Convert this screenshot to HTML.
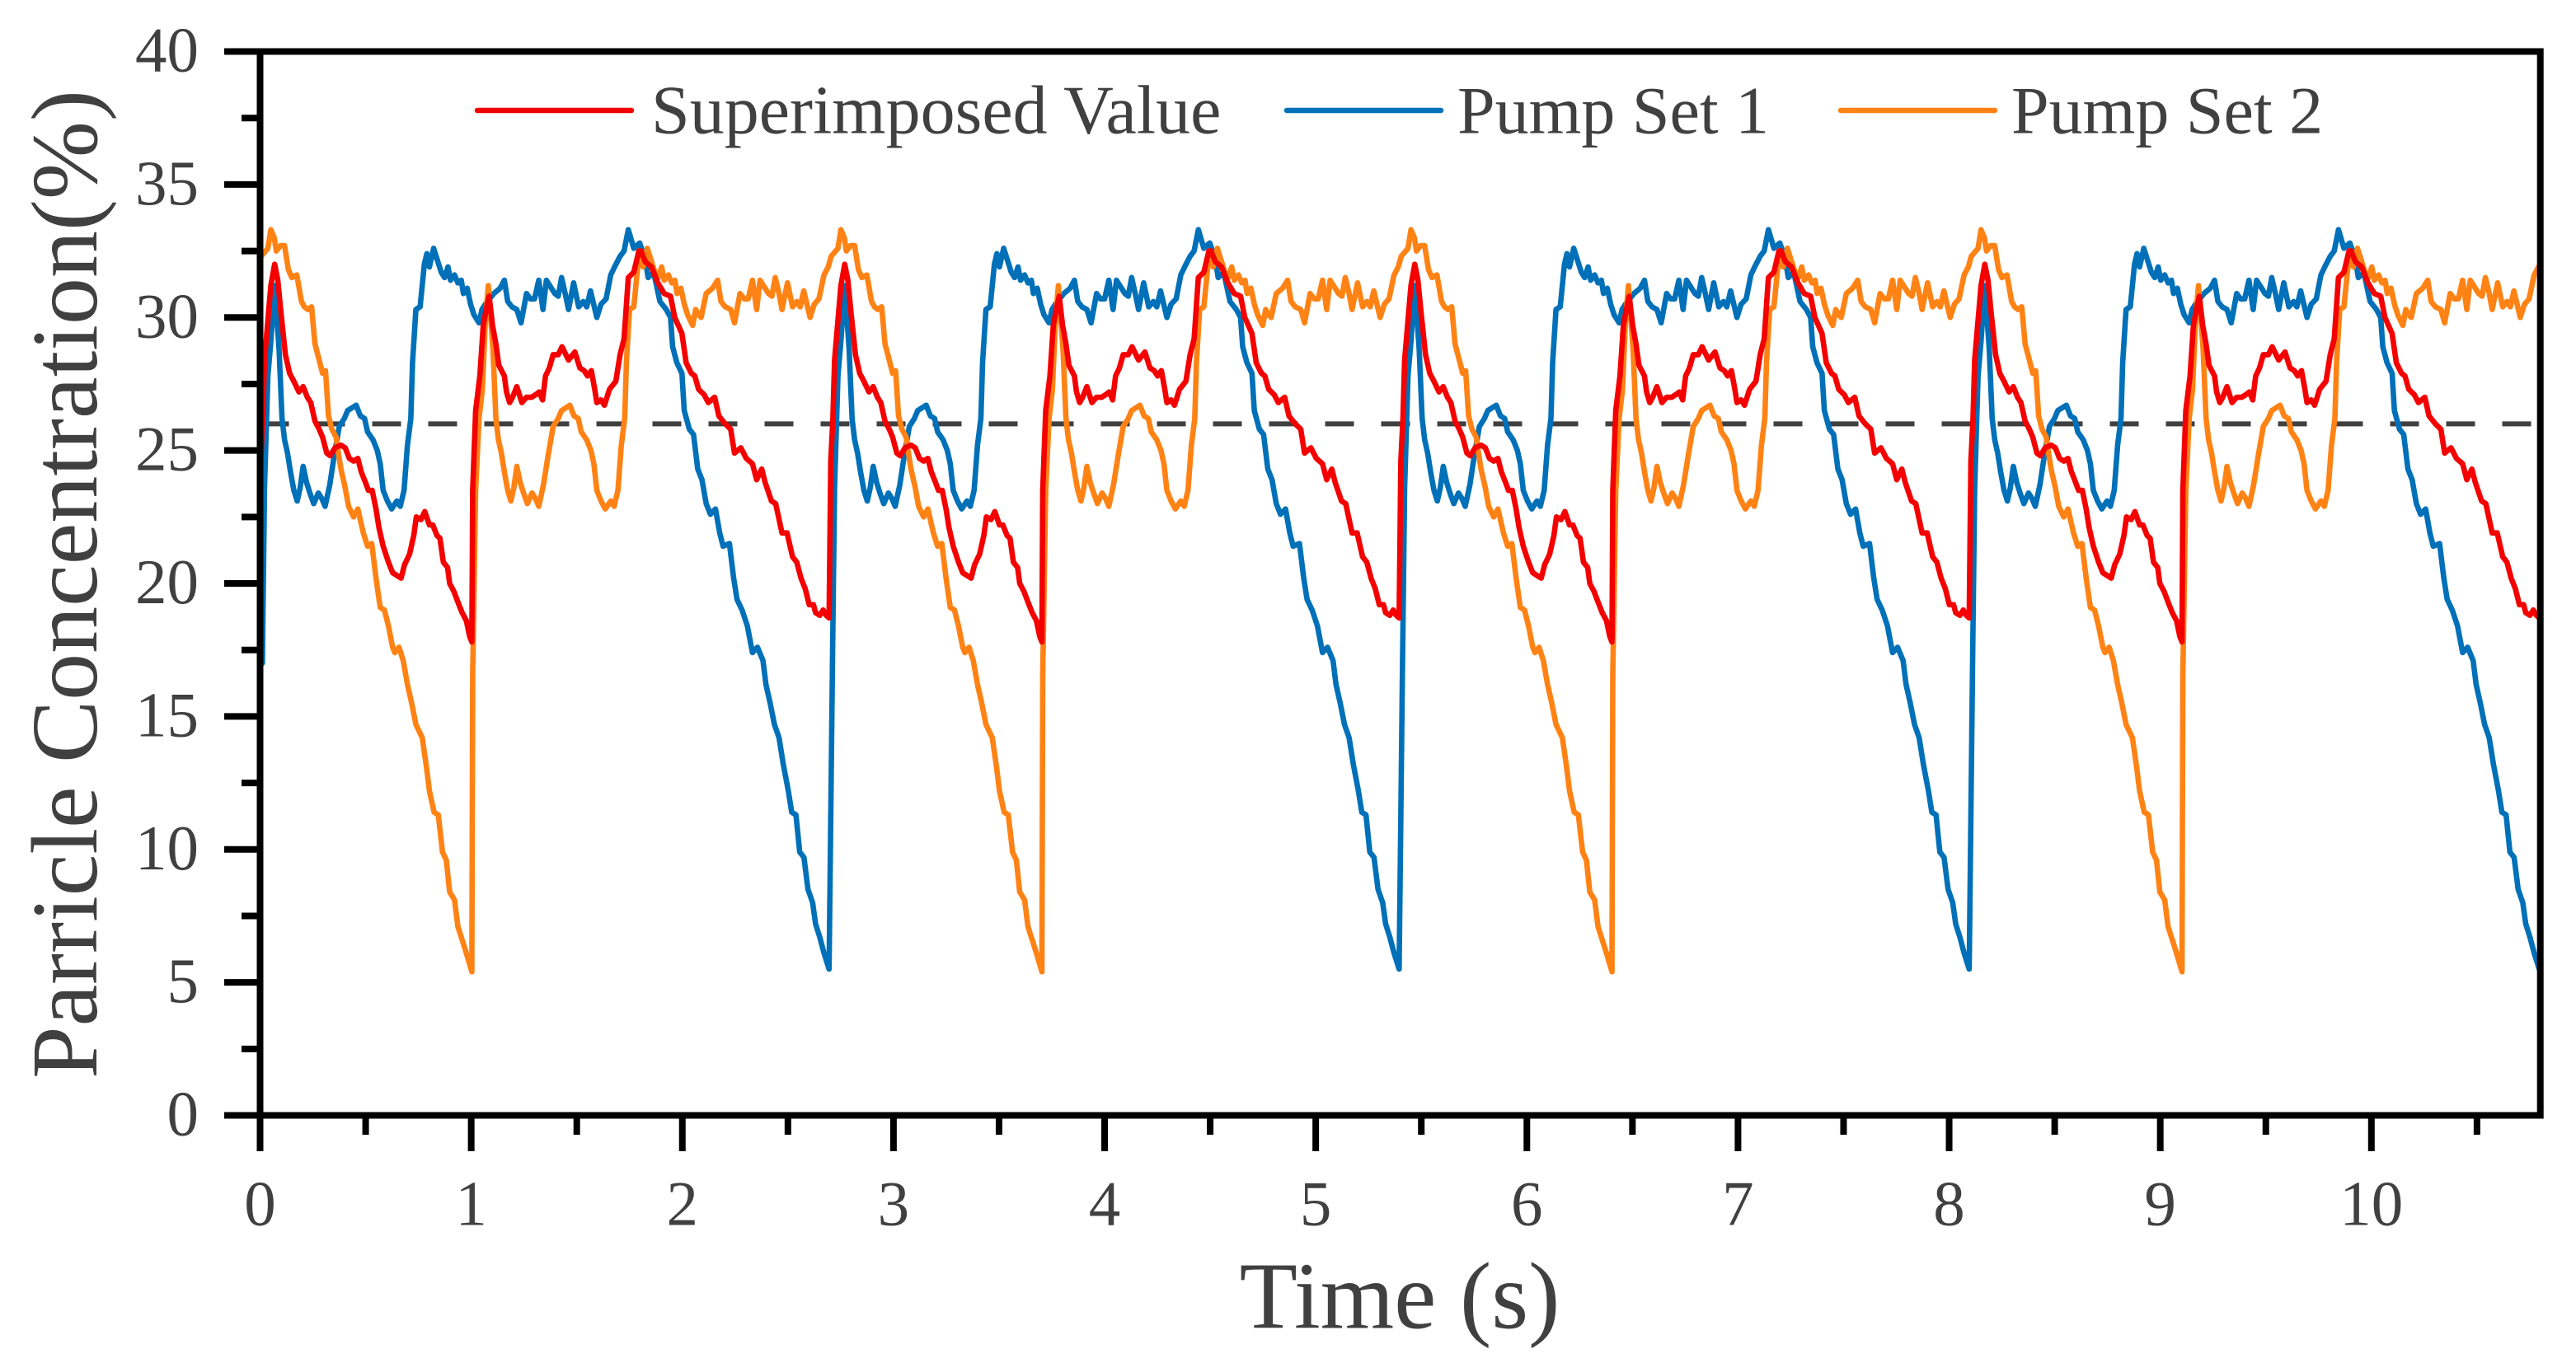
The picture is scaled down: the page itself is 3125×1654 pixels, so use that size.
<!DOCTYPE html>
<html lang="en">
<head>
<meta charset="utf-8">
<title>Particle concentration over time</title>
<style>
html,body{margin:0;padding:0;background:#fff;}
svg{display:block;}
text{font-family:"Liberation Serif",serif;fill:#404040;}
</style>
</head>
<body>
<svg id="chart" xmlns="http://www.w3.org/2000/svg" width="3125" height="1654" viewBox="0 0 3125 1654">
<rect x="0" y="0" width="3125" height="1654" fill="#fff"/>
<defs><clipPath id="plot-clip"><rect x="315.5" y="62.5" width="2766.2" height="1291"/></clipPath></defs>
<g id="marks" clip-path="url(#plot-clip)"></g>
<g id="axes"></g>
<text transform="translate(117,709) rotate(-90)" text-anchor="middle" font-size="114">Parricle Concentration(%)</text>
<text x="1698" y="1611.5" text-anchor="middle" font-size="115">Time (s)</text>
<g>
<line x1="579" y1="134" x2="766" y2="134" stroke="#f00000" stroke-width="6.5" stroke-linecap="round"/>
<text x="790" y="161.5" font-size="84">Superimposed Value</text>
<line x1="1561" y1="134" x2="1748" y2="134" stroke="#0070b8" stroke-width="6.5" stroke-linecap="round"/>
<text x="1768" y="161.5" font-size="82">Pump Set 1</text>
<line x1="2233" y1="134" x2="2420" y2="134" stroke="#ff8214" stroke-width="6.5" stroke-linecap="round"/>
<text x="2440" y="161.5" font-size="82">Pump Set 2</text>
</g>
</svg>
<script>
const xTickLabels = [0,1,2,3,4,5,6,7,8,9,10];
const xMinorTicks = [0.5,1.5,2.5,3.5,4.5,5.5,6.5,7.5,8.5,9.5,10.5];
const yTickLabels = [0,5,10,15,20,25,30,35,40];
const yMinorTicks = [2.5,7.5,12.5,17.5,22.5,27.5,32.5,37.5];
const xDomain = [0, 10.8];
const yDomain = [0, 40];
const thresholdValue = [26];
const cycleLength = [2.7];
const cycleStarts = [0,1,2,3];

const pump1Time = [0.011,0.021,0.037,0.051,0.069,0.090,0.104,0.116,0.130,0.144,0.160,0.176,0.190,0.204,0.220,0.236,0.254,0.276,0.292,0.308,0.330,0.349,0.375,0.399,0.415,0.455,0.475,0.495,0.509,0.535,0.555,0.569,0.583,0.603,0.623,0.648,0.664,0.682,0.698,0.714,0.722,0.738,0.758,0.778,0.790,0.802,0.822,0.838,0.858,0.874,0.890,0.902,0.921,0.937,0.953,0.963,0.981,0.997,1.013,1.037,1.051,1.067,1.107,1.137,1.157,1.173,1.193,1.216,1.236,1.262,1.280,1.300,1.320,1.340,1.356,1.372,1.396,1.412,1.428,1.445,1.461,1.485,1.509,1.531,1.547,1.565,1.595,1.615,1.639,1.661,1.679,1.705,1.724,1.744,1.770,1.798,1.824,1.838,1.864,1.894,1.924,1.944,1.954,1.974,1.998,2.009,2.033,2.053,2.073,2.093,2.113,2.133,2.157,2.177,2.193,2.223,2.243,2.259,2.283,2.308,2.332,2.356,2.382,2.396,2.416,2.436,2.458,2.478,2.502,2.518,2.538,2.556,2.576,2.595,2.617,2.631,2.651,2.671,2.695];
const pump1Values = [17,23.6,27.8,29.1,31.2,28.8,26.2,25.4,24.9,24.2,23.5,23.1,23.6,24.4,23.8,23.4,23.0,23.4,23.2,22.9,23.7,24.7,25.9,26.2,26.5,26.7,26.3,26.2,25.7,25.4,25.0,24.5,23.5,23.1,22.8,23.1,22.9,23.5,25.2,26.2,28.3,30.3,30.4,32,32.4,31.9,32.6,32.2,31.7,31.5,31.9,31.4,31.6,31.3,31.4,30.9,31.1,30.5,30.1,29.8,30.3,30.5,30.9,31.1,31.4,30.6,30.4,30.3,29.8,30.9,30.7,30.7,31.4,30.3,31.4,31.2,30.9,30.8,31.5,30.9,30.3,31.3,30.4,30.6,30.4,31,30,30.5,30.7,31.6,31.9,32.3,32.5,33.3,32.6,32.8,32.2,31.5,31.7,30.6,30.3,30,28.9,28.3,27.9,26.5,25.8,25.6,24.3,23.9,23,22.6,22.8,21.9,21.4,21.5,20.2,19.4,19,18.4,17.4,17.6,17.1,16.2,15.5,14.7,14.2,13.2,12.2,11.4,11.3,9.9,9.7,8.5,8,7.2,6.7,6.1,5.5];

const pump2Time = [0.005,0.037,0.051,0.067,0.077,0.096,0.116,0.134,0.150,0.174,0.196,0.210,0.226,0.244,0.260,0.280,0.296,0.310,0.324,0.340,0.360,0.371,0.383,0.403,0.419,0.443,0.463,0.489,0.509,0.529,0.549,0.569,0.589,0.608,0.628,0.638,0.658,0.678,0.698,0.718,0.738,0.768,0.788,0.802,0.824,0.844,0.864,0.882,0.898,0.921,0.937,0.957,0.977,1.003,1.007,1.021,1.037,1.053,1.067,1.081,1.103,1.117,1.129,1.143,1.157,1.173,1.188,1.202,1.216,1.232,1.248,1.266,1.288,1.304,1.320,1.342,1.362,1.388,1.412,1.428,1.467,1.487,1.507,1.521,1.547,1.567,1.581,1.595,1.615,1.635,1.661,1.677,1.695,1.711,1.727,1.735,1.750,1.770,1.790,1.802,1.814,1.834,1.850,1.870,1.886,1.902,1.914,1.934,1.950,1.965,1.975,1.993,2.009,2.025,2.049,2.063,2.077,2.089,2.113,2.143,2.167,2.183,2.203,2.229,2.247,2.273,2.293,2.312,2.332,2.352,2.368,2.384,2.408,2.424,2.440,2.458,2.472,2.498,2.522,2.542,2.558,2.575,2.605,2.625,2.647,2.671,2.691];
const pump2Values = [32.3,32.6,33.3,33,32.5,32.7,32.7,31.8,31.5,31.6,30.6,30.4,30.3,30.4,29,28.4,27.9,28,26.3,25.8,25.5,24.9,24.3,23.6,22.9,22.5,22.8,21.9,21.4,21.5,20.2,19.1,19,18.4,17.6,17.4,17.6,17.1,16.2,15.5,14.7,14.2,13.1,12.2,11.4,11.3,9.9,9.6,8.4,8.1,7.1,6.6,6.1,5.4,16.6,23.5,26.2,27.3,29.9,31.2,28.8,26.2,25.4,24.9,24.2,23.5,23.1,23.6,24.4,23.8,23.4,23,23.4,23.2,22.9,23.7,24.7,25.9,26.2,26.5,26.7,26.3,26.2,25.7,25.4,25,24.5,23.5,23.1,22.8,23.1,22.9,23.5,25.2,26.2,28.3,30.3,30.4,32,32.4,31.9,32.6,32.2,31.7,31.5,31.9,31.4,31.6,31.3,31.4,30.9,31.1,30.5,30.1,29.7,30.3,30.1,30,30.9,31.1,31.4,30.6,30.4,30.3,29.8,30.9,30.7,30.7,31.4,30.3,31.4,31.2,30.9,30.8,31.5,30.9,30.3,31.3,30.4,30.6,30.4,31,30,30.5,30.7,31.6,31.9];

const superimposedTime = [0.003,0.013,0.021,0.051,0.069,0.084,0.100,0.120,0.140,0.160,0.184,0.204,0.224,0.240,0.260,0.280,0.296,0.316,0.332,0.355,0.383,0.403,0.423,0.443,0.463,0.479,0.499,0.513,0.531,0.549,0.563,0.583,0.608,0.628,0.648,0.668,0.684,0.708,0.728,0.740,0.762,0.780,0.802,0.818,0.838,0.852,0.868,0.888,0.898,0.918,0.937,0.957,0.977,0.993,1.003,1.007,1.021,1.041,1.057,1.071,1.085,1.101,1.117,1.131,1.157,1.167,1.182,1.196,1.216,1.240,1.262,1.286,1.306,1.322,1.338,1.352,1.370,1.388,1.412,1.430,1.461,1.491,1.515,1.535,1.551,1.569,1.585,1.595,1.615,1.631,1.655,1.685,1.705,1.724,1.744,1.770,1.794,1.804,1.824,1.854,1.884,1.914,1.944,1.964,1.998,2.018,2.043,2.059,2.077,2.103,2.123,2.153,2.173,2.203,2.229,2.247,2.277,2.303,2.332,2.352,2.376,2.392,2.422,2.442,2.472,2.496,2.522,2.542,2.562,2.582,2.601,2.621,2.631,2.651,2.667,2.681,2.695];
const superimposedValues = [24.6,26.2,28.4,31.2,32,31.4,30.1,28.6,27.9,27.6,27.2,27.4,27,26.8,26.1,25.8,25.5,24.9,24.8,25.1,25.2,25.1,24.7,24.6,24.7,24.2,23.8,23.5,23.5,22.8,22.1,21.4,20.8,20.4,20.3,20.2,20.7,21.1,21.8,22.5,22.4,22.7,22.2,22.2,21.8,21.7,20.8,20.6,20,19.7,19.3,18.9,18.6,18,17.8,23.5,26.5,27.8,29.7,30.3,30.8,29.7,29,28.2,27.8,27.2,26.8,27,27.4,26.8,27,27,27.1,27.2,26.9,27.8,28.1,28.6,28.6,28.9,28.4,28.7,28.1,28,27.8,28,27.3,26.8,26.9,26.7,27.3,27.6,28.6,29.2,31.5,31.7,32.5,32.5,32.1,31.9,31.3,30.9,30.8,30,29.4,28.3,27.9,27.8,27.3,27.1,26.8,27,26.3,26,25.8,24.9,25.1,24.7,24.5,23.9,24.3,23.8,23.1,23,21.9,21.9,21,20.8,20.2,19.8,19.2,19.2,18.9,18.8,19,18.8,18.7];

const svgNS = 'http://www.w3.org/2000/svg';
const plot = {left: 315.5, right: 3081.7, top: 62.5, bottom: 1353.5};
function xScale(t) {
  return plot.left + (t - xDomain[0]) / (xDomain[1] - xDomain[0]) * (plot.right - plot.left);
}
function yScale(v) {
  return plot.bottom - (v - yDomain[0]) / (yDomain[1] - yDomain[0]) * (plot.bottom - plot.top);
}
function make(tag, parent, attrs) {
  const el = document.createElementNS(svgNS, tag);
  for (const k in attrs) el.setAttribute(k, attrs[k]);
  parent.appendChild(el);
  return el;
}

const marks = document.getElementById('marks');
const axes = document.getElementById('axes');

const threshold = make('line', marks, {x1: plot.left, x2: plot.right, y1: yScale(thresholdValue[0]), y2: yScale(thresholdValue[0]), stroke: '#404040', 'stroke-width': 6, 'stroke-dasharray': '35 33'});



function seriesPath(times, values) {
  let d = '';
  cycleStarts.forEach(function (c) {
    times.forEach(function (t, i) {
      const px = xScale(t + c * cycleLength[0]);
      const py = yScale(values[i]);
      d += (d ? 'L' : 'M') + px.toFixed(2) + ' ' + py.toFixed(2);
    });
  });
  return d;
}

const pump1Line = make('path', marks, {d: seriesPath(pump1Time, pump1Values), fill: 'none', stroke: '#0070b8', 'stroke-width': 6.6, 'stroke-linejoin': 'round', 'stroke-linecap': 'round'});



const pump2Line = make('path', marks, {d: seriesPath(pump2Time, pump2Values), fill: 'none', stroke: '#ff8214', 'stroke-width': 6.6, 'stroke-linejoin': 'round', 'stroke-linecap': 'round'});



const superLine = make('path', marks, {d: seriesPath(superimposedTime, superimposedValues), fill: 'none', stroke: '#f50000', 'stroke-width': 6.6, 'stroke-linejoin': 'round', 'stroke-linecap': 'round'});



const frame = make('rect', axes, {x: plot.left, y: plot.top, width: plot.right - plot.left, height: plot.bottom - plot.top, fill: 'none', stroke: '#000', 'stroke-width': 8});



xTickLabels.forEach(function (t) {
  const tick = make('line', axes, {x1: xScale(t), x2: xScale(t), y1: plot.bottom, y2: 1397, stroke: '#000', 'stroke-width': 8});
  
  
  const label = make('text', axes, {x: xScale(t), y: 1486.5, 'text-anchor': 'middle', 'font-size': 77});
  
  
  label.textContent = String(t);
});
xMinorTicks.forEach(function (t) {
  const tick = make('line', axes, {x1: xScale(t), x2: xScale(t), y1: plot.bottom, y2: 1377, stroke: '#000', 'stroke-width': 8});
  
  
});
yTickLabels.forEach(function (v) {
  const tick = make('line', axes, {x1: 272, x2: plot.left, y1: yScale(v), y2: yScale(v), stroke: '#000', 'stroke-width': 8});
  
  
  const label = make('text', axes, {x: 241, y: yScale(v) + 24, 'text-anchor': 'end', 'font-size': 77});
  
  
  label.textContent = String(v);
});
yMinorTicks.forEach(function (v) {
  const tick = make('line', axes, {x1: 293, x2: plot.left, y1: yScale(v), y2: yScale(v), stroke: '#000', 'stroke-width': 8});
  
  
});
</script>
</body>
</html>
